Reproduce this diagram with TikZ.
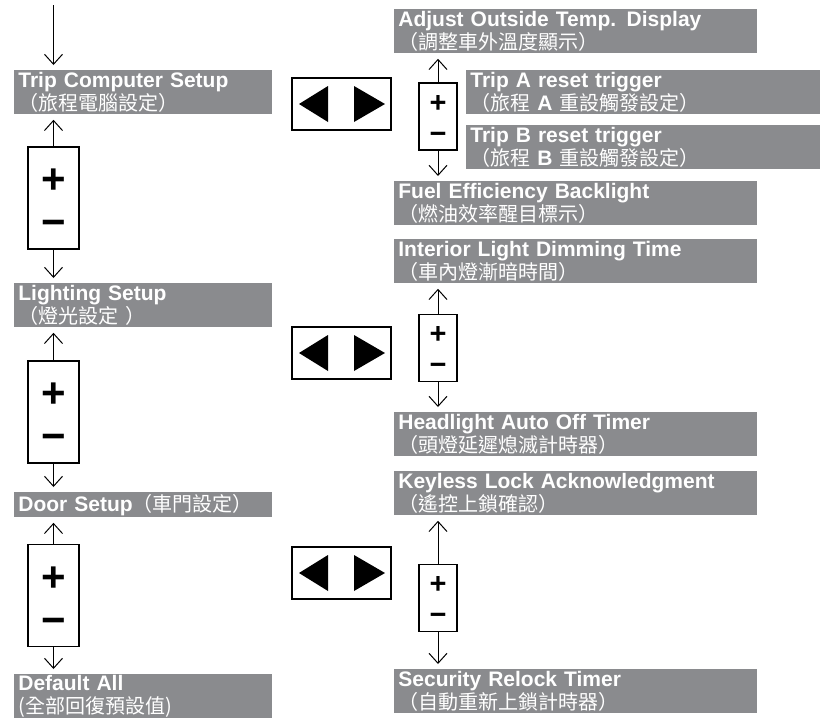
\documentclass[tikz,border=0pt]{standalone}
\usepackage{fontspec}
\setmainfont{Liberation Sans}
\newfontfamily\cjk{Noto Sans CJK TC}
\usepackage{xcolor}
\usepackage{tikz}
\usetikzlibrary{arrows.meta,positioning,calc}
\definecolor{bargray}{RGB}{138,139,142}
\newcommand{\zh}[1]{{\cjk\mdseries\fontsize{10}{11.5}\selectfont #1}}
\newcommand{\lat}[1]{{\rmfamily\bfseries\fontsize{10.5}{11.5}\selectfont #1}}
\newcommand{\pmsign}[1]{\rule{0pt}{#1}+\\−}

\begin{document}
\begin{tikzpicture}[
  x=0.5pt,y=-0.5pt,
  bar/.style={fill=bargray,text=white,anchor=north west,inner xsep=2pt,inner ysep=0pt,align=left,font=\bfseries\fontsize{10.5}{11.5}\selectfont,minimum height=22pt},
  lbar/.style={bar,text width=125pt},
  rbar/.style={bar,text width=177.5pt},
  tbar/.style={bar,text width=173pt},
  pmbox/.style={draw,line width=0.75pt,fill=white,minimum width=25.5pt,minimum height=51pt,align=center,inner sep=0pt,font=\bfseries\fontsize{21}{21.5}\selectfont},
  pmsmall/.style={pmbox,minimum width=19pt,minimum height=33.5pt,font=\bfseries\fontsize{14.5}{15.5}\selectfont},
  navbox/.style={draw,line width=0.75pt,minimum width=49.5pt,minimum height=26pt},
  arrow/.style={-{Straight Barb[length=5pt,width=9pt]},line width=0.5pt,shorten >=2.5pt}
]
\useasboundingbox (0,0) rectangle (820,718);

% left column
\coordinate (top) at (53.5,5);
\node[lbar] (trip) at (14,70) {Trip Computer Setup\\\zh{（旅程電腦設定）}};
\node[pmbox] (pm1) at (53.5,198) {\pmsign{17.3pt}};
\node[lbar] (light) at (14,283) {Lighting Setup\\\zh{（燈光設定 ）}};
\node[pmbox] (pm2) at (53.5,412) {\pmsign{17.3pt}};
\node[lbar,minimum height=12.5pt] (door) at (14,492) {Door Setup\zh{（車門設定）}};
\node[pmbox] (pm3) at (53.5,595.5) {\pmsign{17.3pt}};
\node[lbar] (deflt) at (14,674) {Default All\\\zh{(全部回復預設值)}};

% nav buttons
\node[navbox] (nav1) at (341.5,104) {};
\node[navbox] (nav2) at (341.5,353) {};
\node[navbox] (nav3) at (341.5,573) {};
\fill ($(nav1.center)+(-42.5,0)$) -- ($(nav1.center)+(-13.5,-18)$) -- ($(nav1.center)+(-13.5,18)$) -- cycle;
\fill ($(nav1.center)+(43.5,0)$) -- ($(nav1.center)+(12.5,-18)$) -- ($(nav1.center)+(12.5,18)$) -- cycle;
\fill ($(nav2.center)+(-42.5,0)$) -- ($(nav2.center)+(-13.5,-18)$) -- ($(nav2.center)+(-13.5,18)$) -- cycle;
\fill ($(nav2.center)+(43.5,0)$) -- ($(nav2.center)+(12.5,-18)$) -- ($(nav2.center)+(12.5,18)$) -- cycle;
\fill ($(nav3.center)+(-42.5,0)$) -- ($(nav3.center)+(-13.5,-18)$) -- ($(nav3.center)+(-13.5,18)$) -- cycle;
\fill ($(nav3.center)+(43.5,0)$) -- ($(nav3.center)+(12.5,-18)$) -- ($(nav3.center)+(12.5,18)$) -- cycle;

% right column
\node[rbar] (adjust) at (394,9) {Adjust Outside Temp. Display\\\zh{（調整車外溫度顯示）}};
\node[pmsmall] (sm1) at (438,116.5) {\pmsign{11pt}};
\node[tbar] (tripa) at (466,70) {Trip A reset trigger\\\zh{（旅程 \lat{A} 重設觸發設定）}};
\node[tbar] (tripb) at (466,125) {Trip B reset trigger\\\zh{（旅程 \lat{B} 重設觸發設定）}};
\node[rbar] (fuel) at (394,181) {Fuel Efficiency Backlight\\\zh{（燃油效率醒目標示）}};
\node[rbar] (inter) at (394,239) {Interior Light Dimming Time\\\zh{（車內燈漸暗時間）}};
\node[pmsmall] (sm2) at (438,348) {\pmsign{11pt}};
\node[rbar] (head) at (394,412) {Headlight Auto Off Timer\\\zh{（頭燈延遲熄滅計時器）}};
\node[rbar] (keyless) at (394,471) {Keyless Lock Acknowledgment\\\zh{（遙控上鎖確認）}};
\node[pmsmall] (sm3) at (438,598) {\pmsign{11pt}};
\node[rbar] (secur) at (394,669) {Security Relock Timer\\\zh{（自動重新上鎖計時器）}};

\draw[arrow] (top) -- (top |- trip.north);
\draw[arrow] (pm1.north) -- (pm1.north |- trip.south);
\draw[arrow] (pm1.south) -- (pm1.south |- light.north);
\draw[arrow] (pm2.north) -- (pm2.north |- light.south);
\draw[arrow] (pm2.south) -- (pm2.south |- door.north);
\draw[arrow] (pm3.north) -- (pm3.north |- door.south);
\draw[arrow] (pm3.south) -- (pm3.south |- deflt.north);
\draw[arrow] (sm1.north) -- (sm1.north |- adjust.south);
\draw[arrow] (sm1.south) -- (sm1.south |- fuel.north);
\draw[arrow] (sm2.north) -- (sm2.north |- inter.south);
\draw[arrow] (sm2.south) -- (sm2.south |- head.north);
\draw[arrow] (sm3.north) -- (sm3.north |- keyless.south);
\draw[arrow] (sm3.south) -- (sm3.south |- secur.north);
\end{tikzpicture}
\end{document}
